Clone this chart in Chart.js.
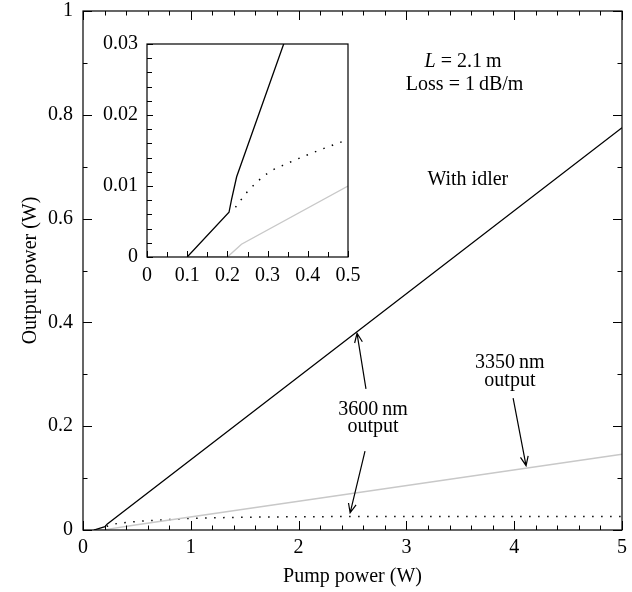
<!DOCTYPE html>
<html>
<head>
<meta charset="utf-8">
<script src="https://cdn.jsdelivr.net/npm/chart.js@4.4.1/dist/chart.umd.min.js"></script>
<style>
  html, body { margin:0; padding:0; background:#fff; }
  #wrap { position:relative; width:632px; height:592px; }
  #main { position:absolute; left:0; top:0; }
  #inset { position:absolute; left:90px; top:30px; }
</style>
</head>
<body>
<div id="wrap">
  <canvas id="main" width="632" height="592"></canvas>
  <canvas id="inset" width="270" height="262"></canvas>
</div>
<script>
// ---- Data ----
const withIdlerX = [0.1, 0.204, 0.21, 0.223, 0.34, 5];
const withIdlerY = [0, 0.0063, 0.008, 0.0113, 0.03, 0.775];

const idler3350X = [0.1, 0.2, 0.235, 0.5, 5];
const idler3350Y = [0, 0, 0.0018, 0.01, 0.146];

const noIdlerX = [0.22, 0.25, 0.3, 0.35, 0.4, 0.45, 0.5, 0.7, 1.0, 1.5, 2, 3, 5];
const noIdlerY = [0.007, 0.0092, 0.0118, 0.0132, 0.0144, 0.0155, 0.0165, 0.019, 0.0222, 0.0245, 0.0255, 0.026, 0.026];

const mainXTicks = [0, 1, 2, 3, 4, 5];
const mainYTicks = [0, 0.2, 0.4, 0.6, 0.8, 1];
const insetXTicks = [0, 0.1, 0.2, 0.3, 0.4, 0.5];
const insetYTicks = [0, 0.01, 0.02, 0.03];

const FONT = '"Liberation Serif", "Times New Roman", serif';
const pts = (xs, ys) => xs.map((x, i) => ({x, y: ys[i]}));

function makeDatasets() {
  return [
    {data: pts(withIdlerX, withIdlerY), borderColor:'#000', borderWidth:1.3, pointRadius:0, tension:0},
    {data: pts(idler3350X, idler3350Y), borderColor:'#c8c8c8', borderWidth:1.4, pointRadius:0, tension:0},
    {data: pts(noIdlerX, noIdlerY), borderColor:'#000', borderWidth:1.5, borderDash:[1.5, 7.5], pointRadius:0, cubicInterpolationMode:'monotone'}
  ];
}

// draws frame + inward ticks
function framePlugin(cfg) {
  return {
    id: 'frame',
    afterDatasetsDraw(chart) {
      const {ctx, chartArea: a, scales: {x, y}} = chart;
      ctx.save();
      ctx.strokeStyle = '#000';
      ctx.lineWidth = 1.2;
      ctx.strokeRect(a.left, a.top, a.right - a.left, a.bottom - a.top);
      ctx.lineWidth = 1;
      ctx.beginPath();
      const eps = 1e-9;
      for (let v = x.min; v <= x.max + eps; v += cfg.xMinor) {
        const isMajor = Math.abs(v / cfg.xMajor - Math.round(v / cfg.xMajor)) < 1e-6;
        const len = isMajor ? cfg.majorLen : cfg.minorLen;
        const px = Math.round(x.getPixelForValue(v)) + 0.5;
        ctx.moveTo(px, a.bottom); ctx.lineTo(px, a.bottom - len);
        if (cfg.mirror) { ctx.moveTo(px, a.top); ctx.lineTo(px, a.top + len); }
      }
      for (let v = y.min; v <= y.max + eps; v += cfg.yMinor) {
        const isMajor = Math.abs(v / cfg.yMajor - Math.round(v / cfg.yMajor)) < 1e-6;
        const len = isMajor ? cfg.majorLen : cfg.minorLen;
        const py = Math.round(y.getPixelForValue(v)) + 0.5;
        ctx.moveTo(a.left, py); ctx.lineTo(a.left + len, py);
        if (cfg.mirror) { ctx.moveTo(a.right, py); ctx.lineTo(a.right - len, py); }
      }
      ctx.stroke();
      ctx.restore();
    }
  };
}

// annotations for main chart
const textNotes = [
  {x: 3.57, y: 0.674, text: 'With idler'},
  {x: 2.69, y: 0.231, text: '3600\u2009nm'},
  {x: 2.69, y: 0.198, text: 'output'},
  {x: 3.96, y: 0.322, text: '3350\u2009nm'},
  {x: 3.96, y: 0.288, text: 'output'},
  {x: 3.54, y: 0.857, text: 'Loss = 1\u2009dB/m'}
];
const arrows = [
  {x1: 2.625, y1: 0.272, x2: 2.542, y2: 0.379},
  {x1: 2.616, y1: 0.152, x2: 2.478, y2: 0.033},
  {x1: 3.99, y1: 0.254, x2: 4.11, y2: 0.124}
];

const annotPlugin = {
  id: 'annot',
  afterDraw(chart) {
    const {ctx, scales: {x, y}} = chart;
    ctx.save();
    ctx.fillStyle = '#000';
    ctx.font = '20px ' + FONT;
    ctx.textAlign = 'center';
    ctx.textBaseline = 'middle';
    textNotes.forEach(n => ctx.fillText(n.text, x.getPixelForValue(n.x), y.getPixelForValue(n.y)));
    // "L = 2.1 m" with italic L
    const cx = x.getPixelForValue(3.525), cy = y.getPixelForValue(0.902);
    ctx.font = 'italic 20px ' + FONT;
    const wL = ctx.measureText('L').width;
    ctx.font = '20px ' + FONT;
    const rest = ' = 2.1\u2009m';
    const wR = ctx.measureText(rest).width;
    const x0 = cx - (wL + wR) / 2;
    ctx.textAlign = 'left';
    ctx.font = 'italic 20px ' + FONT;
    ctx.fillText('L', x0, cy);
    ctx.font = '20px ' + FONT;
    ctx.fillText(rest, x0 + wL, cy);
    // arrows
    ctx.strokeStyle = '#000';
    ctx.lineWidth = 1.2;
    arrows.forEach(a => {
      const p1x = x.getPixelForValue(a.x1), p1y = y.getPixelForValue(a.y1);
      const p2x = x.getPixelForValue(a.x2), p2y = y.getPixelForValue(a.y2);
      const ang = Math.atan2(p2y - p1y, p2x - p1x);
      const L = 10, w = 0.4;
      ctx.beginPath();
      ctx.moveTo(p1x, p1y); ctx.lineTo(p2x, p2y);
      ctx.moveTo(p2x - L * Math.cos(ang - w), p2y - L * Math.sin(ang - w));
      ctx.lineTo(p2x, p2y);
      ctx.lineTo(p2x - L * Math.cos(ang + w), p2y - L * Math.sin(ang + w));
      ctx.stroke();
    });
    ctx.restore();
  }
};

const whiteBg = {
  id: 'whiteBg',
  beforeDraw(chart) {
    const {ctx, chartArea: a} = chart;
    ctx.save(); ctx.fillStyle = '#fff';
    ctx.fillRect(a.left, a.top, a.right - a.left, a.bottom - a.top);
    ctx.restore();
  }
};

const tickFont = {family: FONT, size: 20};

function fitX(h) { return s => { s.height = h; s.paddingLeft = 0; s.paddingRight = 0; s.paddingTop = 0; s.paddingBottom = 0; }; }
function fitY(w) { return s => { s.width = w; s.paddingTop = 0; s.paddingBottom = 0; s.paddingLeft = 0; s.paddingRight = 0; }; }

new Chart(document.getElementById('main'), {
  type: 'line',
  data: {datasets: makeDatasets()},
  options: {
    responsive: false, animation: false,
    layout: {padding: {top: 11, right: 10, left: 0, bottom: 0}},
    plugins: {legend: {display: false}, tooltip: {enabled: false}},
    scales: {
      x: {
        type: 'linear', min: 0, max: 5,
        afterBuildTicks(s) { s.ticks = mainXTicks.map(v => ({value: v})); },
        ticks: {font: tickFont, color: '#000', padding: 6, maxRotation: 0, callback: v => String(v)},
        grid: {display: false, drawTicks: false}, border: {display: false},
        title: {display: true, text: 'Pump power (W)', font: tickFont, color: '#000', padding: {top: 0, bottom: 3}},
        afterFit: fitX(62)
      },
      y: {
        type: 'linear', min: 0, max: 1,
        afterBuildTicks(s) { s.ticks = mainYTicks.map(v => ({value: v})); },
        ticks: {font: tickFont, color: '#000', padding: 10, callback: v => String(v)},
        grid: {display: false, drawTicks: false}, border: {display: false},
        title: {display: true, text: 'Output power (W)', font: tickFont, color: '#000', padding: {top: 19, bottom: 0}},
        afterFit: fitY(83)
      }
    }
  },
  plugins: [framePlugin({xMinor: 0.2, xMajor: 1, yMinor: 0.1, yMajor: 0.2, majorLen: 9, minorLen: 4.5, mirror: true}), annotPlugin]
});

new Chart(document.getElementById('inset'), {
  type: 'line',
  data: {datasets: makeDatasets()},
  options: {
    responsive: false, animation: false,
    layout: {padding: {top: 14, right: 12, left: 0, bottom: 0}},
    plugins: {legend: {display: false}, tooltip: {enabled: false}},
    scales: {
      x: {
        type: 'linear', min: 0, max: 0.5,
        afterBuildTicks(s) { s.ticks = insetXTicks.map(v => ({value: v})); },
        ticks: {font: tickFont, color: '#000', padding: 7, maxRotation: 0, callback: v => String(v)},
        grid: {display: false, drawTicks: false}, border: {display: false},
        afterFit: fitX(35)
      },
      y: {
        type: 'linear', min: 0, max: 0.03,
        afterBuildTicks(s) { s.ticks = insetYTicks.map(v => ({value: v})); },
        ticks: {font: tickFont, color: '#000', padding: 9, callback: v => String(v)},
        grid: {display: false, drawTicks: false}, border: {display: false},
        afterFit: fitY(57)
      }
    }
  },
  plugins: [whiteBg, framePlugin({xMinor: 0.05, xMajor: 0.1, yMinor: 0.002, yMajor: 0.01, majorLen: 6, minorLen: 5, mirror: false})]
});
</script>
</body>
</html>
